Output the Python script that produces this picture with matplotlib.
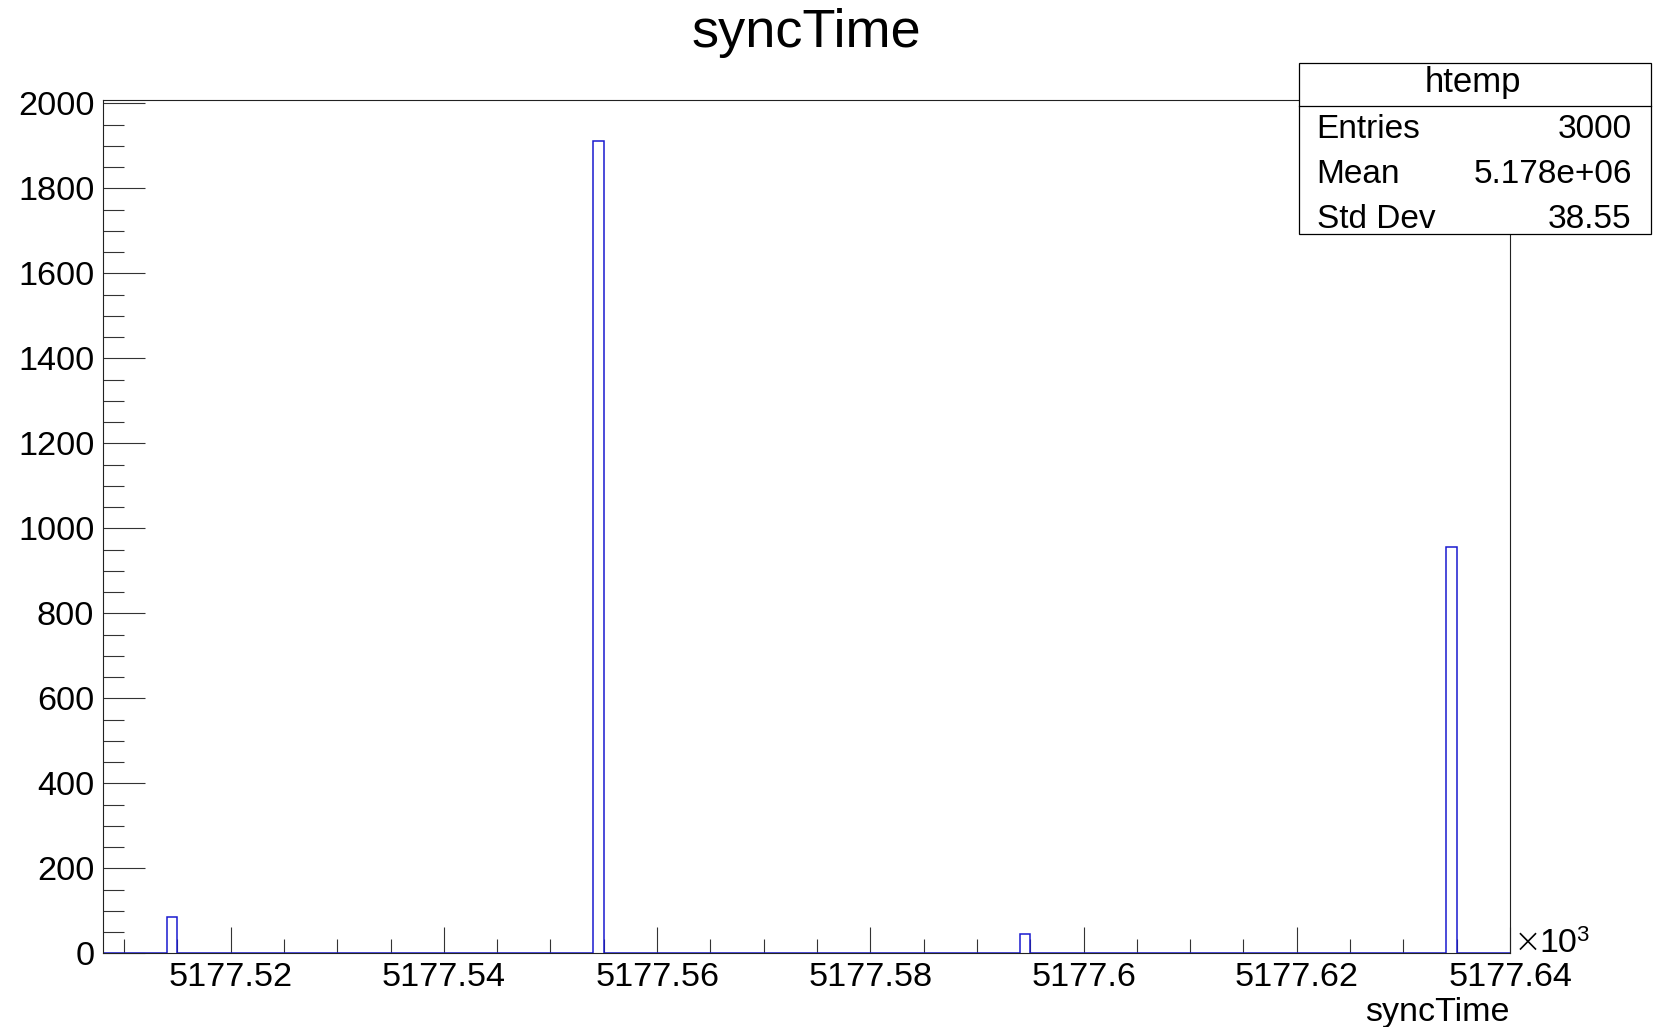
import numpy as np
import matplotlib
matplotlib.use("Agg")
import matplotlib.pyplot as plt
from matplotlib.patches import Rectangle
from matplotlib.lines import Line2D
from matplotlib.ticker import MultipleLocator, FuncFormatter

plt.rcParams['font.family'] = ['Liberation Sans', 'DejaVu Sans']

# histogram of syncTime, bins of width 1 (x axis shown in units of 10^3)
bin_start = 5177508
bin_stop = 5177640
filled_bins = [5177514, 5177554, 5177594, 5177634]   # lower edge of filled bins
counts = [85, 1912, 46, 957]

hist_title = "syncTime"
stats_name = "htemp"
stats_labels = ["Entries", "Mean", "Std Dev"]
stats_values = ["3000", "5.178e+06", "38.55"]

W, H = 1653, 1027
def fx(px):
    return px / W
def fy(py):
    return 1 - py / H

edges = np.arange(bin_start, bin_stop + 1) / 1000.0
vals, _ = np.histogram(np.array(filled_bins) + 0.5, bins=np.arange(bin_start, bin_stop + 1), weights=counts)

fig = plt.figure(figsize=(W / 100, H / 100), dpi=100)
ax = fig.add_axes([fx(102.7), fy(953.3), fx(1510) - fx(102.7), fy(100.2) - fy(953.3)])

# below the spines/ticks so the axis line covers the baseline, like ROOT
ax.stairs(vals, edges, baseline=0, fill=False, color='#1a1ad0', lw=1.1, zorder=2)

ax.set_xlim(bin_start / 1000.0, bin_stop / 1000.0)
ax.set_ylim(0, 1.05 * max(counts))

ax.xaxis.set_major_locator(MultipleLocator(0.02))
ax.xaxis.set_minor_locator(MultipleLocator(0.005))
ax.yaxis.set_major_locator(MultipleLocator(200))
ax.yaxis.set_minor_locator(MultipleLocator(50))
ax.xaxis.set_major_formatter(FuncFormatter(lambda v, p: "%g" % round(v, 4)))

ax.tick_params(axis='both', which='both', direction='in', width=0.8, color='#333333',
               top=False, right=False, labelsize=24.7)
ax.tick_params(axis='y', which='major', length=30, pad=6)
ax.tick_params(axis='y', which='minor', length=15)
ax.tick_params(axis='x', which='major', length=18.7, pad=6)
ax.tick_params(axis='x', which='minor', length=10)
for s in ax.spines.values():
    s.set_linewidth(0.8)
    s.set_color('#222222')

# title and axis label
fig.text(fx(806), fy(47.5), hist_title, fontsize=39, ha='center', va='baseline')
fig.text(fx(1510), fy(1021), "syncTime", fontsize=24.5, ha='right', va='baseline')
fig.text(fx(1514), fy(951.7), "\u00d7", fontsize=24, ha='left', va='baseline',
         family=['DejaVu Sans'], fontweight='light')
fig.text(fx(1539), fy(951.7), "10", fontsize=24.5, ha='left', va='baseline')
fig.text(fx(1576), fy(941), "3", fontsize=16, ha='left', va='baseline')

# stats box
box = Rectangle((fx(1299), fy(234.3)), fx(1651) - fx(1299), fy(63.3) - fy(234.3),
                transform=fig.transFigure, facecolor='white', edgecolor='black',
                lw=0.9, zorder=5)
fig.patches.append(box)
fig.lines.append(Line2D([fx(1299), fx(1651)], [fy(105.7), fy(105.7)],
                        transform=fig.transFigure, color='black', lw=0.9, zorder=6))
fig.text(fx(1473), fy(92), stats_name, fontsize=25, ha='center', va='baseline', zorder=7)
row_y = [138.3, 183.3, 228.3]
for lab, val, y in zip(stats_labels, stats_values, row_y):
    fig.text(fx(1316.7), fy(y), lab, fontsize=24, ha='left', va='baseline', zorder=7)
    fig.text(fx(1631.7), fy(y), val, fontsize=24, ha='right', va='baseline', zorder=7)

fig.savefig("out.png", dpi=100)
